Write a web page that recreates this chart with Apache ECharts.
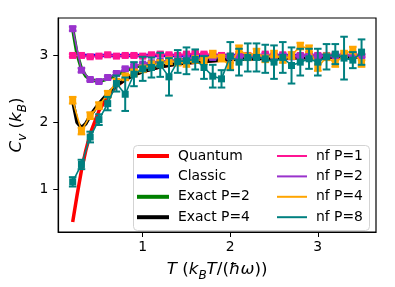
<!DOCTYPE html>
<html><head><meta charset="utf-8">
<script src="https://cdn.jsdelivr.net/npm/echarts@6/dist/echarts.min.js"></script>
<style>html,body{margin:0;padding:0;background:#fff}#c{width:395px;height:287px}</style>
</head><body><div id="c"></div>
<script>
// ---- data ----
const xTicks = [1, 2, 3];
const yTicks = [1, 2, 3];
const xExact = [0.2,0.25,0.3,0.35,0.4,0.5,0.6,0.7,0.8,0.9,1.0,1.2,1.4,1.6,1.8,2.0,2.5,3.0,3.5];
const quantum = [0.51,0.91,1.28,1.58,1.83,2.17,2.39,2.54,2.64,2.71,2.76,2.83,2.875,2.90,2.92,2.94,2.96,2.97,2.98];
const exactP2 = [3.40,3.02,2.80,2.69,2.64,2.61,2.65,2.71,2.77,2.82,2.86,2.90,2.93,2.95,2.96,2.97,2.98,2.985,2.99];
const exactP4 = [2.32,2.00,1.92,1.98,2.10,2.28,2.43,2.55,2.64,2.71,2.76,2.83,2.875,2.90,2.92,2.94,2.96,2.97,2.98];
const xClassic = [0.2, 3.5];
const classic = [3.0, 3.0];
const xNf = [0.2,0.3,0.4,0.5,0.6,0.7,0.8,0.9,1.0,1.1,1.2,1.3,1.4,1.5,1.6,1.7,1.8,1.9,2.0,2.1,2.2,2.3,2.4,2.5,2.6,2.7,2.8,2.9,3.0,3.1,3.2,3.3,3.4,3.5];
const nfP1 = [3.00,3.00,2.98,2.99,3.01,2.99,3.00,3.00,2.99,3.01,3.02,3.01,3.00,3.02,3.03,3.02,3.01,3.00,2.99,3.01,3.00,2.99,3.02,3.00,3.01,2.99,3.00,3.02,3.00,2.99,3.01,3.00,3.02,3.00];
const nfP1Err = [0.02,0.02,0.02,0.02,0.02,0.02,0.02,0.02,0.02,0.02,0.02,0.02,0.02,0.02,0.02,0.02,0.02,0.02,0.02,0.02,0.02,0.02,0.02,0.02,0.02,0.02,0.02,0.02,0.02,0.02,0.02,0.02,0.02,0.02];
const nfP2 = [3.40,2.78,2.64,2.61,2.67,2.73,2.80,2.84,2.87,2.89,2.91,2.93,2.94,2.95,2.96,2.96,2.97,2.97,2.98,2.98,2.98,2.99,2.98,2.99,2.99,2.98,2.99,2.99,2.99,3.00,2.99,2.99,3.00,2.99];
const nfP2Err = [0.03,0.03,0.02,0.02,0.02,0.02,0.02,0.02,0.02,0.02,0.02,0.02,0.02,0.02,0.02,0.02,0.02,0.02,0.02,0.02,0.02,0.02,0.02,0.02,0.02,0.02,0.02,0.02,0.02,0.02,0.02,0.02,0.02,0.02];
const nfP4 = [2.33,1.87,2.10,2.25,2.42,2.60,2.68,2.74,2.80,2.86,2.88,2.92,2.90,2.88,2.94,2.92,3.02,2.96,2.84,3.10,2.98,3.05,2.95,3.02,2.94,3.00,3.14,3.10,2.82,2.98,2.88,3.02,3.08,2.88];
const nfP4Err = [0.05,0.05,0.05,0.05,0.05,0.05,0.05,0.05,0.05,0.05,0.05,0.05,0.05,0.05,0.05,0.05,0.05,0.05,0.05,0.05,0.05,0.05,0.05,0.05,0.05,0.05,0.05,0.05,0.05,0.05,0.05,0.05,0.05,0.05];
const nfP8 = [1.11,1.37,1.78,2.04,2.28,2.58,2.42,2.72,2.80,2.82,2.86,2.68,2.91,2.92,2.94,2.82,2.69,2.65,2.99,2.90,2.97,2.97,2.95,2.90,2.97,2.85,2.90,2.95,2.90,2.98,3.02,2.96,2.93,3.05];
const nfP8Err = [0.07,0.07,0.08,0.08,0.10,0.12,0.25,0.18,0.18,0.15,0.18,0.28,0.17,0.20,0.15,0.17,0.17,0.13,0.21,0.20,0.21,0.21,0.21,0.25,0.23,0.27,0.20,0.15,0.20,0.19,0.15,0.32,0.12,0.19];

const FONT = 'DejaVu Sans';
const pairs = (xs, ys) => xs.map((x, i) => [x, ys[i]]);

function theory(name, color, xs, ys) {
  return { type: 'line', name, data: pairs(xs, ys), showSymbol: false, symbol: 'none',
    lineStyle: { color, width: 3.5 }, itemStyle: { color }, z: 2, animation: false };
}
function nfLine(name, color, ys, z) {
  return { type: 'line', name, data: pairs(xNf, ys), symbol: 'rect', symbolSize: 7,
    lineStyle: { color, width: 1.6 }, itemStyle: { color }, z, animation: false };
}
function nfErr(name, color, ys, errs, z) {
  return { type: 'custom', name: name + ' err', z, silent: true, animation: false, clip: false,
    data: xNf.map((x, i) => [x, ys[i] - errs[i], ys[i] + errs[i]]),
    encode: { x: 0, y: [1, 2] },
    renderItem(params, api) {
      const lo = api.coord([api.value(0), api.value(1)]);
      const hi = api.coord([api.value(0), api.value(2)]);
      const c = 3.8, st = { stroke: color, lineWidth: 2 };
      return { type: 'group', children: [
        { type: 'line', shape: { x1: lo[0], y1: lo[1], x2: hi[0], y2: hi[1] }, style: st },
        { type: 'line', shape: { x1: lo[0] - c, y1: lo[1], x2: lo[0] + c, y2: lo[1] }, style: st },
        { type: 'line', shape: { x1: hi[0] - c, y1: hi[1], x2: hi[0] + c, y2: hi[1] }, style: st }
      ]};
    }
  };
}

const cPink = '#ff1493', cPurple = '#9932cc', cOrange = '#ffa500', cTeal = '#008080';

const legText = { fontSize: 13.9, fontFamily: FONT, color: '#000', lineHeight: 16, padding: [0, 0, 0, 4] };

const option = {
  backgroundColor: '#fff',
  animation: false,
  grid: { left: 51, right: 19, top: 18, bottom: 50, show: true, borderColor: '#000', borderWidth: 1.2, containLabel: false },
  xAxis: {
    type: 'value', min: 0.035, max: 3.665,
    splitLine: { show: false },
    axisLine: { show: true, lineStyle: { color: '#000', width: 1.2 } },
    axisTick: { show: true, length: 5, customValues: xTicks, lineStyle: { color: '#000', width: 1 } },
    axisLabel: { customValues: xTicks, margin: 8, fontSize: 13.9, fontFamily: FONT, color: '#000', formatter: v => String(v) },
    name: '{it|T}{r| (}{it|k}{sub|B}{it|T}{r|/(}{it|ħω}{r|))}',
    nameLocation: 'middle', nameGap: 26,
    nameTextStyle: { rich: {
      it: { fontSize: 16.7, fontFamily: FONT, fontStyle: 'italic', color: '#000', lineHeight: 24 },
      r: { fontSize: 16.7, fontFamily: FONT, color: '#000', lineHeight: 24 },
      sub: { fontSize: 12, fontFamily: FONT, fontStyle: 'italic', color: '#000', lineHeight: 12, verticalAlign: 'bottom' }
    } }
  },
  yAxis: {
    type: 'value', min: 0.36, max: 3.56,
    splitLine: { show: false },
    axisLine: { show: true, lineStyle: { color: '#000', width: 1.2 } },
    axisTick: { show: true, length: 5, customValues: yTicks, lineStyle: { color: '#000', width: 1 } },
    axisLabel: { customValues: yTicks, margin: 10, fontSize: 13.9, fontFamily: FONT, color: '#000', formatter: v => String(v) },
    name: '{it|C}{sub|v}{r| (}{it|k}{sub|B}{r|)}',
    nameLocation: 'middle', nameGap: 20, nameRotate: 90,
    nameTextStyle: { rich: {
      it: { fontSize: 16.7, fontFamily: FONT, fontStyle: 'italic', color: '#000', lineHeight: 24 },
      r: { fontSize: 16.7, fontFamily: FONT, color: '#000', lineHeight: 24 },
      sub: { fontSize: 12, fontFamily: FONT, fontStyle: 'italic', color: '#000', lineHeight: 12, verticalAlign: 'bottom' }
    } }
  },
  graphic: [{
    type: 'rect', left: 133, top: 145, z: 3,
    shape: { width: 236, height: 85, r: 4 },
    style: { fill: 'rgba(255,255,255,0.8)', stroke: '#d3d3d3', lineWidth: 1 }
  }],
  legend: [
    { left: 137, top: 148, padding: 0, orient: 'vertical', itemWidth: 32, itemHeight: 4, itemGap: 4.4,
      selectedMode: false, textStyle: legText, z: 5,
      data: ['Quantum', 'Classic', 'Exact P=2', 'Exact P=4'].map(n => ({ name: n, icon: 'rect' })) },
    { left: 277, top: 148, padding: 0, orient: 'vertical', itemWidth: 30, itemHeight: 2, itemGap: 4.4,
      selectedMode: false, textStyle: legText, z: 5,
      data: ['nf P=1', 'nf P=2', 'nf P=4', 'nf P=8'].map(n => ({ name: n, icon: 'rect' })) }
  ],
  series: [
    theory('Quantum', '#ff0000', xExact, quantum),
    theory('Classic', '#0000ff', xClassic, classic),
    theory('Exact P=2', '#008000', xExact, exactP2),
    theory('Exact P=4', '#000000', xExact, exactP4),
    nfErr('nf P=1', cPink, nfP1, nfP1Err, 3),
    nfLine('nf P=1', cPink, nfP1, 3),
    nfErr('nf P=2', cPurple, nfP2, nfP2Err, 4),
    nfLine('nf P=2', cPurple, nfP2, 4),
    nfErr('nf P=4', cOrange, nfP4, nfP4Err, 5),
    nfLine('nf P=4', cOrange, nfP4, 5),
    nfErr('nf P=8', cTeal, nfP8, nfP8Err, 6),
    nfLine('nf P=8', cTeal, nfP8, 6)
  ]
};
const chart = echarts.init(document.getElementById('c'), null, { renderer: 'canvas' });
chart.setOption(option);
</script>
</body></html>
